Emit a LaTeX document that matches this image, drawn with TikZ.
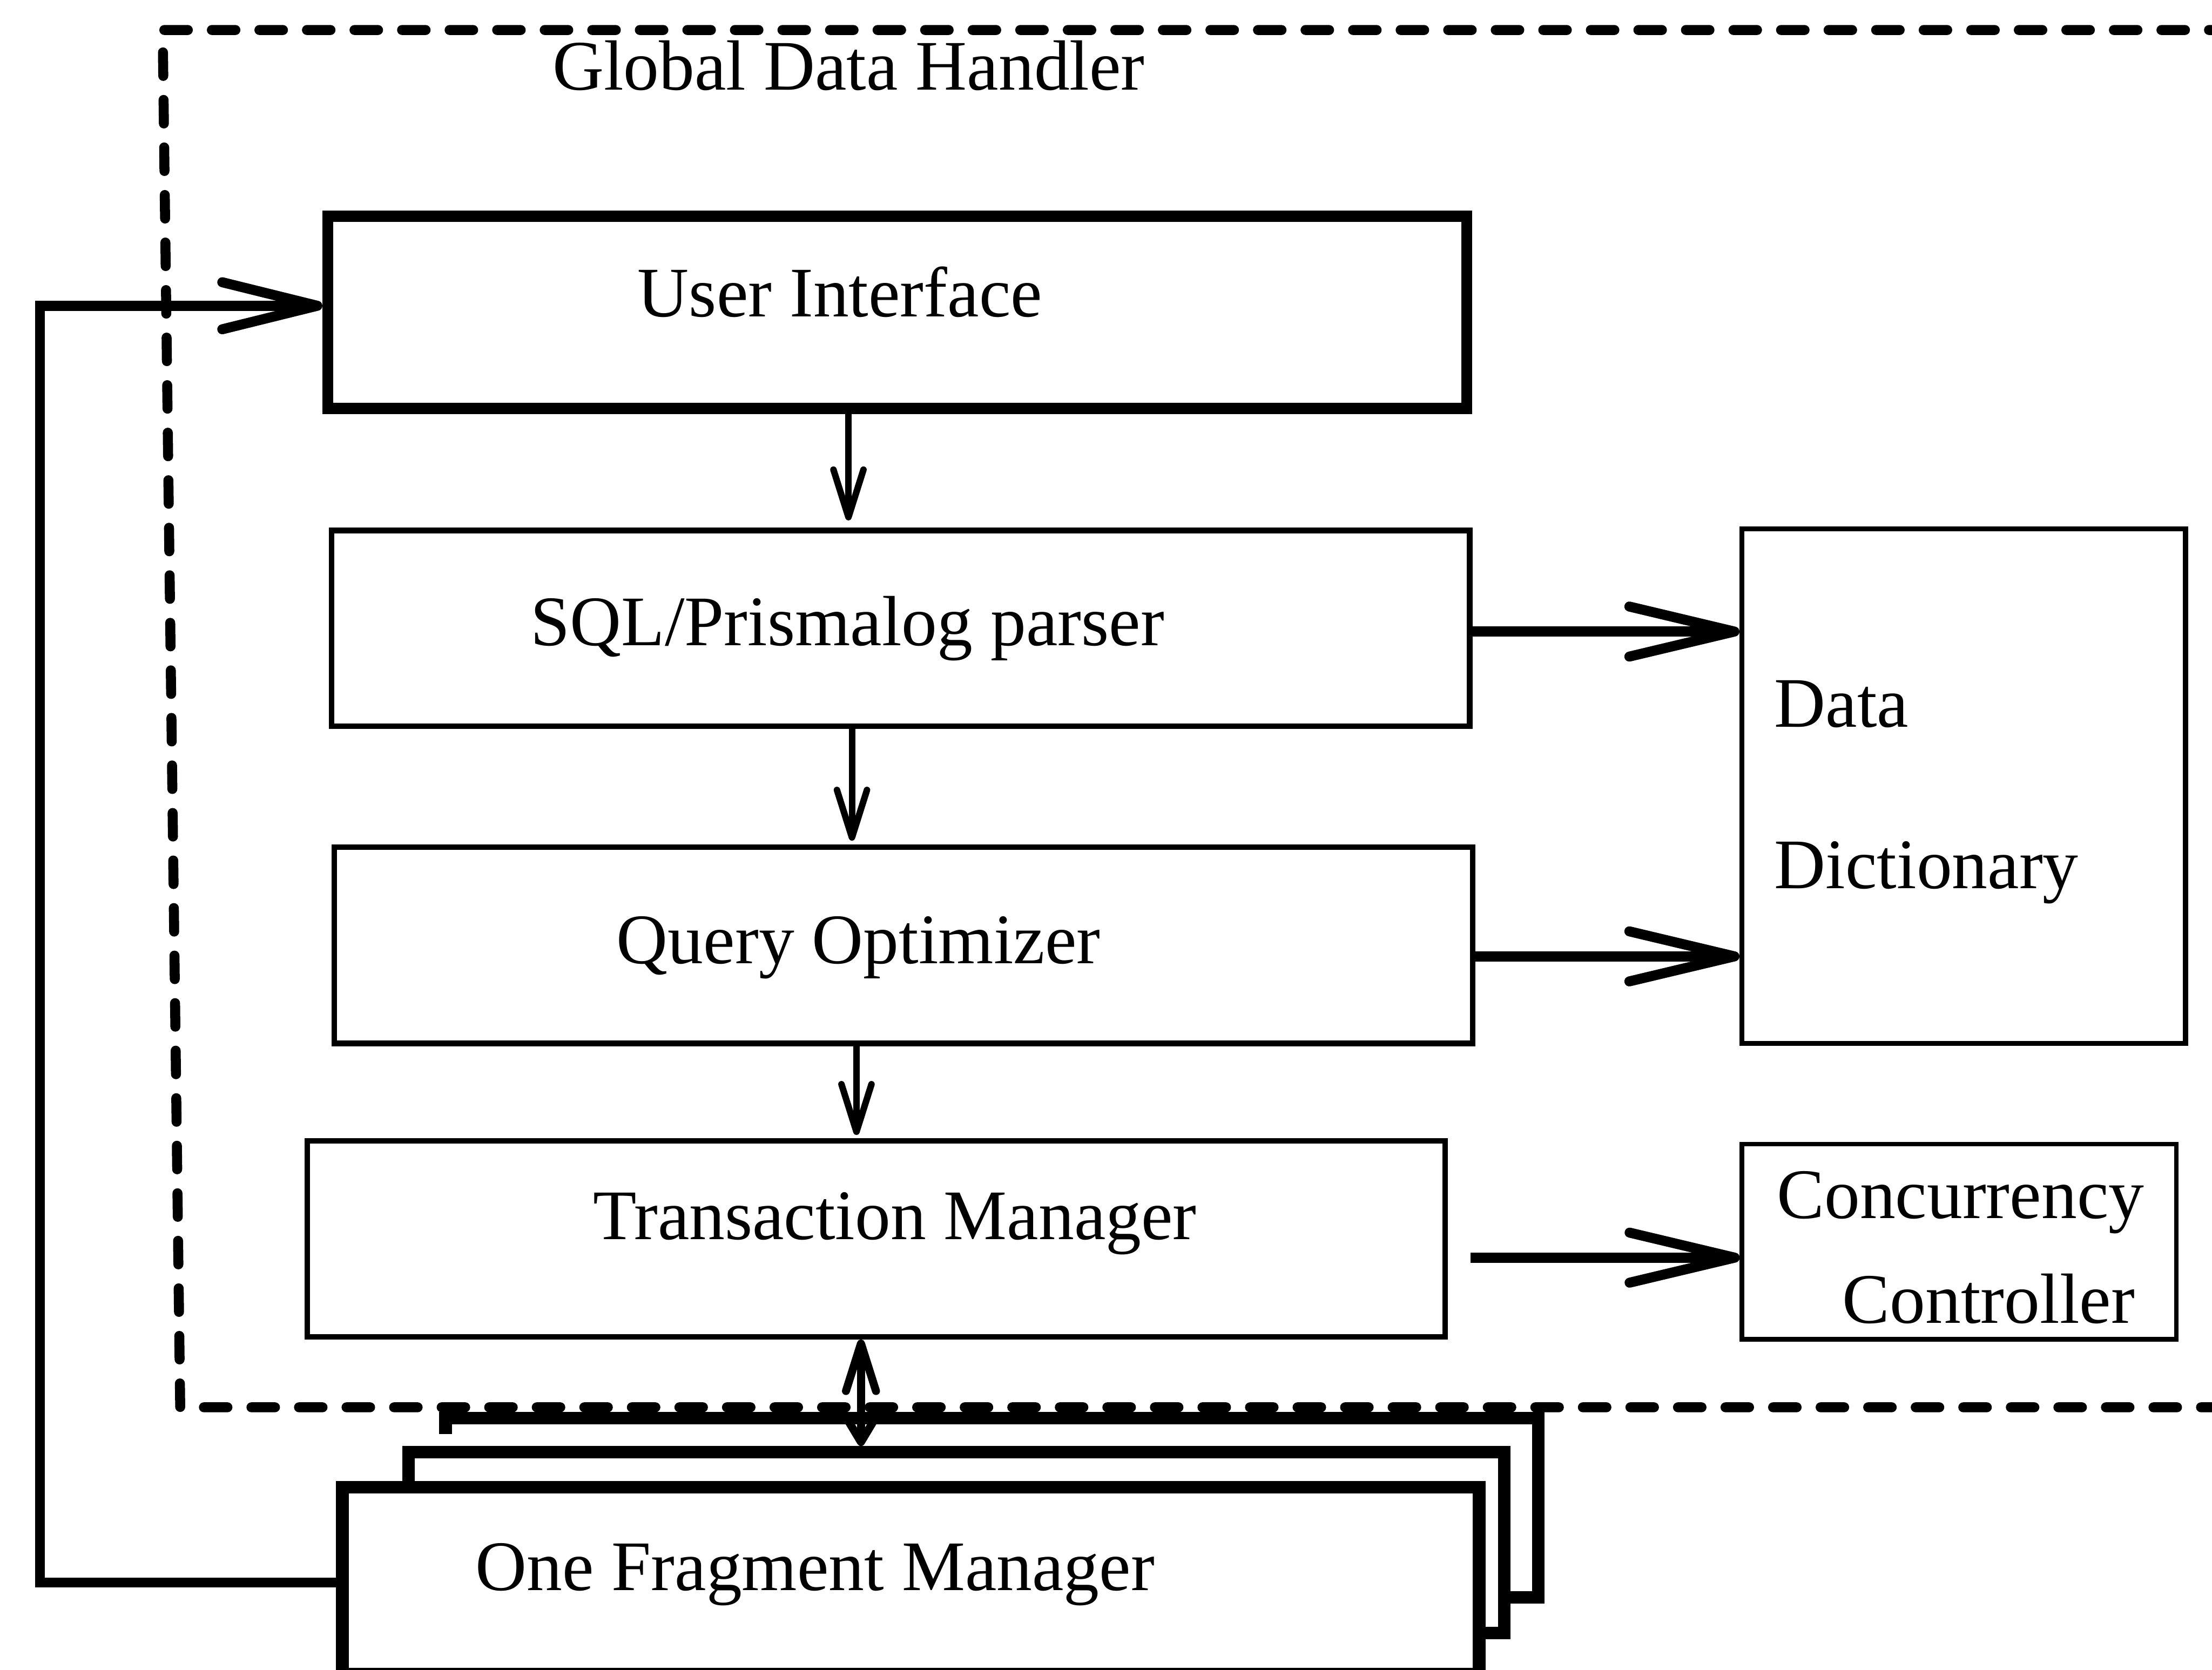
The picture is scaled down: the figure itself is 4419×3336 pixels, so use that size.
\documentclass[tikz,border=0pt]{standalone}
\usepackage{fontspec}
\setmainfont{Liberation Serif}
\usetikzlibrary{arrows.meta,fit}
\begin{document}
\begin{tikzpicture}[x=0.1pt,y=-0.1pt,
  every node/.style={font=\fontsize{14.2}{17}\selectfont},
  lbl/.style={inner sep=0pt, anchor=base west},
  box/.style={draw, rectangle, inner sep=0pt, fill=white},
  fmline/.style={line width=2.5pt, line join=miter},
  smallarrow/.style={line width=1.3pt, -{Straight Barb[length=9.5pt,width=6pt,round]}},
  dblarrow/.style={line width=1.6pt, {Straight Barb[length=9.5pt,width=6pt,round]}-{Straight Barb[length=5pt,width=6pt,round]}},
  bigarrow/.style={line width=2pt, -{Straight Barb[length=21pt,width=10pt,round]}},
  fbarrow/.style={line width=2pt, -{Straight Barb[length=19pt,width=9.4pt,round]}},
  frame/.style={line width=2pt, line cap=round, dash pattern=on 4.7pt off 4.8pt}]
\useasboundingbox (0,0) rectangle (4419,3336);

% dashed frame of the Global Data Handler
\draw[frame] (4460,60) -- (325,60) -- (360,2812) -- (4460,2812);
\node[lbl] (gdh) at (1102,180) {Global Data Handler};

% boxes
\node[box, line width=2.2pt, fit={(655,432) (2930,816)}] (ui) {};
\node[box, line width=1.1pt, fit={(662,1060) (2936,1451)}] (sql) {};
\node[box, line width=1.1pt, fit={(668,1693) (2942,2085)}] (qo) {};
\node[box, line width=1.1pt, fit={(614,2280) (2887,2671)}] (tm) {};
\node[box, line width=1.0pt, fit={(3480,1057) (4366,2085)}] (dd) {};
\node[box, line width=0.9pt, fit={(3480,2286) (4348,2676)}] (cc) {};

% stacked fragment managers
\node[fill=white, inner sep=0pt, fit={(892,2836) (3071,3190)}] (fmc) {};
\draw[fmline] ([yshift=-3.2pt]fmc.north west) -- (fmc.north west) -- (fmc.north east)
  -- (fmc.south east) -- (3005,0 |- fmc.south);
\node[box, fmline, fit={(816,2902) (3005,3263)}] (fmb) {};
\node[box, fmline, fit={(684,2972) (2955,3345)}] (fm) {};

% texts
\node[lbl] (uit) at (1272,633) {User Interface};
\node[lbl] (sqlt) at (1058,1290) {SQL/Prismalog parser};
\node[lbl] (qot) at (1230,1925) {Query Optimizer};
\node[lbl] (tmt) at (1183,2477) {Transaction Manager};
\node[lbl] (dd1) at (3543,1453) {Data};
\node[lbl] (dd2) at (3543,1775) {Dictionary};
\node[lbl] (cc1) at (3548,2435) {Concurrency};
\node[lbl] (cc2) at (3679,2644) {Controller};
\node[lbl] (fmt) at (948,3178) {One Fragment Manager};

% vertical arrows
\draw[smallarrow] (1695,0 |- ui.south) -- (1695,1040);
\draw[smallarrow] (1702,0 |- sql.south) -- (1702,1680);
\draw[smallarrow] (1711,0 |- qo.south) -- (1711,2268);
\draw[dblarrow] (1720,0 |- tm.south) -- (1720,0 |- fmb.north);

% arrows to the right
\coordinate (tmout) at (2938,2513);
\draw[bigarrow] (sql.east |- 0,1262) -- (dd.west |- 0,1262);
\draw[bigarrow] (qo.east |- 0,1911) -- (dd.west |- 0,1911);
\draw[bigarrow] (tmout) -- (cc.west |- tmout);

% feedback from the fragment manager to the user interface
\coordinate (fbc) at (80,611);
\draw[fbarrow, line join=miter] (fm.west |- 0,3162) -| (fbc) -- (ui.west |- fbc);
\end{tikzpicture}
\end{document}
